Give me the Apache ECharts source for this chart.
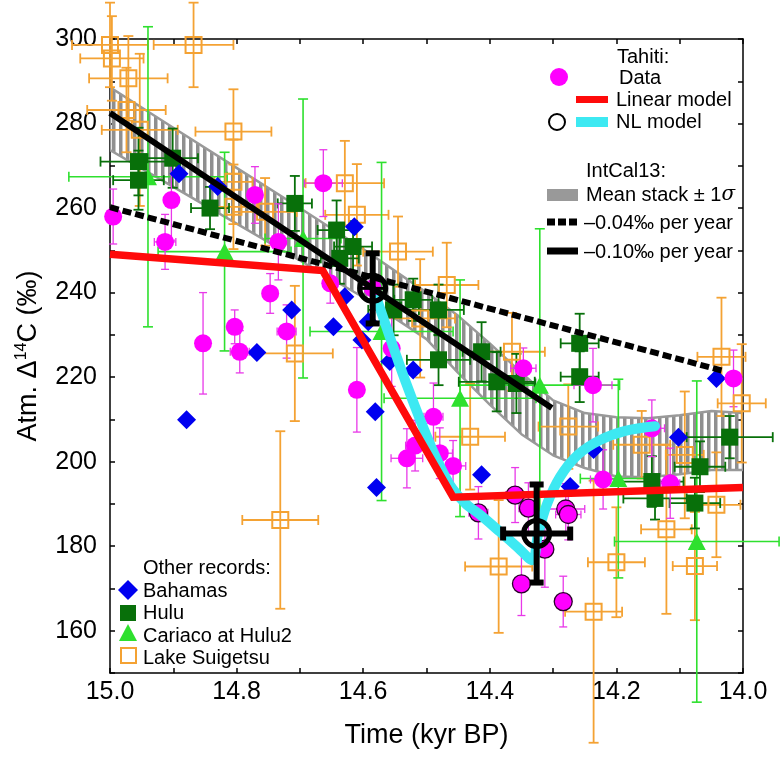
<!DOCTYPE html>
<html><head><meta charset="utf-8">
<script src="https://cdn.jsdelivr.net/npm/echarts@6/dist/echarts.min.js"></script>
<style>html,body{margin:0;padding:0;background:#fff}#c{width:781px;height:765px}</style>
</head><body><div id="c"></div>
<script>
// ---------------- data ----------------
// Tahiti data (kyr BP, permil, y error, x error)
const tahitiX = [14.995,14.903,14.913,14.853,14.803,14.795,14.771,14.747,14.734,14.721,14.663,14.652,14.610,14.585,14.555,14.531,14.518,14.489,14.479,14.458,14.418,14.360,14.347,14.350,14.339,14.313,14.284,14.280,14.276,14.237,14.221,14.144,14.115,14.015];
const tahitiY = [258.0,261.9,252.0,228.0,231.9,226.0,263.1,239.8,252.0,230.8,265.9,242.2,217.0,241.0,226.8,200.8,203.8,210.6,202.0,199.0,187.9,192.1,222.1,171.1,189.0,179.3,166.9,188.8,187.5,218.1,195.8,207.9,194.9,219.7];
const tahitiErrY = [6.5,9.5,6.5,12,4,5,6.7,4.7,9,6.3,7.9,4.7,10,0,9,7,6,8,6,6,6.2,6.5,4.8,7.5,6,9,6,6,6,8.7,7,6.7,8.3,6.7];
const tahitiErrX = [0,0,0.017,0,0.01,0.015,0,0,0,0.015,0.03,0,0,0,0,0.025,0.015,0.015,0.02,0.02,0.015,0.015,0.02,0,0.015,0,0,0.03,0.02,0.03,0.02,0.02,0.015,0];

// Bahamas
const bahamasX = [14.891,14.879,14.830,14.768,14.713,14.647,14.629,14.614,14.602,14.592,14.581,14.579,14.558,14.521,14.413,14.273,14.236,14.102,14.042];
const bahamasY = [268.1,209.9,265.1,225.8,235.9,231.9,239.0,255.6,228.8,233.1,211.8,193.9,223.7,221.7,196.9,194.1,202.9,205.8,219.7];

// Hulu
const huluX = [14.955,14.955,14.901,14.842,14.708,14.642,14.637,14.616,14.552,14.521,14.481,14.481,14.413,14.389,14.358,14.258,14.258,14.144,14.139,14.068,14.076,14.021];
const huluY = [271.0,266.6,271.8,260.0,261.1,254.8,248.1,250.9,235.9,238.3,235.9,224.1,226.0,218.9,218.5,228.0,220.1,195.3,191.3,198.8,190.2,205.8];
const huluErrY = [8,7,7,5,6.5,7,6,6,6,5,6,6,7,7,7,7,6,6,5,6,6,5];
const huluErrX = [0.06,0.04,0.04,0.03,0.027,0.03,0.03,0.03,0.04,0.03,0.04,0.05,0.03,0.06,0.03,0.03,0.03,0.05,0.05,0.04,0.04,0.068];

// Cariaco at Hulu2
const cariacoX = [14.940,14.819,14.695,14.571,14.447,14.321,14.197,14.073];
const cariacoY = [267.4,249.7,252.8,230.8,215.0,218.1,196.0,181.1];
const cariacoErrY = [35.5,23.5,33,40,28,37,23.5,38];
const cariacoErrX = [0.125,0.105,0.06,0.113,0.12,0.126,0.06,0.13];

// Lake Suigetsu
const suigetsuX = [15.000,14.997,14.971,14.974,14.953,14.868,14.805,14.805,14.805,14.755,14.731,14.708,14.629,14.610,14.545,14.510,14.468,14.431,14.386,14.365,14.276,14.236,14.200,14.160,14.121,14.092,14.076,14.042,14.034,14.002];
const suigetsuY = [298.6,295.4,290.7,283.2,278.5,298.6,278.1,266.2,260.3,259.1,186.2,225.6,265.9,258.4,249.7,233.9,241.8,205.9,175.2,226.0,208.3,164.5,176.2,204.0,184.0,201.6,175.3,189.8,224.8,213.8];
const suigetsuErrY = [10,10,10,10,18,10,10,10,10,8,21,16,10,12,8.3,14,10,12.5,15.7,9.2,10,31,13,8,20,15,12.8,12.4,14,14];
const suigetsuErrX = [0.06,0.05,0.062,0.062,0.06,0.063,0.06,0.03,0.04,0.05,0.06,0.06,0.062,0.05,0.055,0.055,0.05,0.055,0.053,0.052,0.047,0.045,0.045,0.045,0.04,0.03,0.035,0.038,0.038,0.038];

// IntCal13 mean stack +/- 1 sigma
const bandX = [15.0,14.9,14.8,14.7,14.6,14.5,14.45,14.4,14.35,14.3,14.25,14.2,14.15,14.1,14.05,14.0];
const bandUpper = [288.6,279.0,269.5,260.0,250.3,240.0,234.5,228.0,221.0,214.5,211.5,210.5,210.3,211.0,212.0,211.5];
const bandLower = [273.7,265.0,256.3,247.6,238.9,229.0,221.0,213.5,206.5,201.5,198.5,196.5,196.3,197.0,198.0,198.0];

// Linear model
const linearX = [15.0,14.664,14.458,14.0];
const linearY = [249.1,245.2,191.6,193.9];

// NL model curve
const nlCurveX = [14.578,14.558,14.534,14.510,14.487,14.463,14.439,14.415,14.384,14.355,14.333,14.324,14.310,14.289,14.261,14.226,14.186,14.139];
const nlCurveY = [238.3,229.5,219.3,209.9,201.6,194.5,190.2,187.4,183.4,179.6,176.7,182.7,189.8,196.4,201.6,205.1,207.3,208.4];

// NL model change points
const nlPointX = [14.585,14.326];
const nlPointY = [241.0,183.0];
const nlPointErrY = [8.3,11.6];
const nlPointErrX = [0,0.053];

// Trend lines
const trend04X = [15.0,14.032];
const trend04Y = [260.2,221.5];
const trend10X = [15.0,14.302];
const trend10Y = [282.5,212.7];

// ---------------- chart ----------------
const FONT = '"Liberation Sans", Arial, Helvetica, sans-serif';
const MAGENTA = '#ff00ff', BLUE = '#0000f0', HULU = '#08700a', CARIACO = '#2ee02e', ORANGE = '#f4a233', RED = '#ff0a0a', CYAN = '#3de9f2', GREY = '#999999';

const chart = echarts.init(document.getElementById('c'));

function pairs(xs, ys) { return xs.map((x, i) => [x, ys[i]]); }
function quads(xs, ys, eys, exs) { return xs.map((x, i) => [x, ys[i], eys[i], exs[i]]); }

function errSeries(data, color, lw, cap, z) {
  return {
    type: 'custom', data: data, clip: false, silent: true, z: z,
    encode: { x: 0, y: 1 },
    renderItem: function (params, api) {
      const x = api.value(0), y = api.value(1), ey = api.value(2), ex = api.value(3);
      const c = api.coord([x, y]);
      const st = { stroke: color, lineWidth: lw, fill: null };
      const ch = [];
      if (ey > 0) {
        const t = api.coord([x, y + ey])[1], b = api.coord([x, y - ey])[1];
        ch.push({ type: 'line', shape: { x1: c[0], y1: t, x2: c[0], y2: b }, style: st });
        ch.push({ type: 'line', shape: { x1: c[0] - cap, y1: t, x2: c[0] + cap, y2: t }, style: st });
        ch.push({ type: 'line', shape: { x1: c[0] - cap, y1: b, x2: c[0] + cap, y2: b }, style: st });
      }
      if (ex > 0) {
        const l = api.coord([x + ex, y])[0], r = api.coord([x - ex, y])[0];
        ch.push({ type: 'line', shape: { x1: l, y1: c[1], x2: r, y2: c[1] }, style: st });
        ch.push({ type: 'line', shape: { x1: l, y1: c[1] - cap, x2: l, y2: c[1] + cap }, style: st });
        ch.push({ type: 'line', shape: { x1: r, y1: c[1] - cap, x2: r, y2: c[1] + cap }, style: st });
      }
      return { type: 'group', children: ch };
    }
  };
}

// vertical-stripe hatch for the IntCal13 band
const pat = document.createElement('canvas');
pat.width = 7; pat.height = 7;
const pctx = pat.getContext('2d');
pctx.fillStyle = '#8f8f8f';
pctx.fillRect(0, 0, 3.5, 7);

const tahitiData = tahitiX.map((x, i) => {
  const y = tahitiY[i];
  const outlined = x > 14.25 && x < 14.43 && y < 195;
  return { value: [x, y], itemStyle: outlined ? { borderColor: '#2a002a', borderWidth: 1.3 } : {} };
});

const axisCommonX = {
  type: 'value', min: 14.0, max: 15.0, interval: 0.1, inverse: true,
  axisLine: { show: true, onZero: false, lineStyle: { color: '#000', width: 1.5 } },
  axisTick: { show: true, inside: true, length: 5, lineStyle: { color: '#000', width: 1.5 } },
  splitLine: { show: false }
};
const axisCommonY = {
  type: 'value', min: 150, max: 300, interval: 10,
  axisLine: { show: true, onZero: false, lineStyle: { color: '#000', width: 1.5 } },
  axisTick: { show: true, inside: true, length: 5, lineStyle: { color: '#000', width: 1.5 } },
  splitLine: { show: false }
};

const T = (text, x, y, extra) => ({ type: 'text', x: x, y: y, z: 100, style: Object.assign({ text: text, font: '20px ' + FONT, fill: '#000', verticalAlign: 'middle', textAlign: 'left' }, extra || {}) });

const option = {
  animation: false,
  backgroundColor: '#fff',
  grid: { left: 110, right: 38, top: 39, bottom: 92, containLabel: false },
  xAxis: [
    Object.assign({}, axisCommonX, {
      position: 'bottom',
      name: 'Time (kyr BP)', nameLocation: 'middle', nameGap: 49,
      nameTextStyle: { fontSize: 27, color: '#000', fontFamily: FONT },
      axisLabel: { show: true, margin: 7, fontSize: 25, color: '#000', fontFamily: FONT,
        formatter: v => { const k = Math.round(v * 10); return k % 2 === 0 ? (k / 10).toFixed(1) : ''; } }
    }),
    Object.assign({}, axisCommonX, { position: 'top', axisLabel: { show: false } })
  ],
  yAxis: [
    Object.assign({}, axisCommonY, {
      position: 'left',
      name: 'Atm. Δ{sup|14}C (‰)', nameLocation: 'middle', nameGap: 66,
      nameTextStyle: { fontSize: 27, color: '#000', fontFamily: FONT,
        rich: { sup: { fontSize: 16, fontFamily: FONT, color: '#000', verticalAlign: 'top', lineHeight: 30 } } },
      axisLabel: { show: true, margin: 13, fontSize: 25, color: '#000', fontFamily: FONT,
        formatter: v => (Math.round(v) % 20 === 0 ? String(Math.round(v)) : '') }
    }),
    Object.assign({}, axisCommonY, { position: 'right', axisLabel: { show: false } })
  ],
  series: [
    {
      type: 'custom', data: [[14.5, 240]], silent: true, z: 1, clip: true,
      encode: { x: 0, y: 1 },
      renderItem: function (params, api) {
        const pts = [];
        for (let i = 0; i < bandX.length; i++) pts.push(api.coord([bandX[i], bandUpper[i]]));
        for (let i = bandX.length - 1; i >= 0; i--) pts.push(api.coord([bandX[i], bandLower[i]]));
        return { type: 'polygon', shape: { points: pts }, style: { fill: { image: pat, repeat: 'repeat' }, stroke: GREY, lineWidth: 2.5, lineJoin: 'round' } };
      }
    },
    errSeries(quads(suigetsuX, suigetsuY, suigetsuErrY, suigetsuErrX), ORANGE, 1.8, 5, 2),
    { type: 'scatter', name: 'Lake Suigetsu', z: 2, data: pairs(suigetsuX, suigetsuY), symbol: 'rect', symbolSize: 16,
      itemStyle: { color: 'rgba(255,255,255,0)', borderColor: ORANGE, borderWidth: 2, opacity: 1 } },
    errSeries(quads(cariacoX, cariacoY, cariacoErrY, cariacoErrX), CARIACO, 1.6, 5, 2),
    { type: 'scatter', name: 'Cariaco at Hulu2', z: 2, data: pairs(cariacoX, cariacoY), symbol: 'triangle', symbolSize: [18, 17],
      itemStyle: { color: CARIACO, opacity: 1 } },
    errSeries(quads(huluX, huluY, huluErrY, huluErrX), HULU, 1.8, 5, 2),
    { type: 'scatter', name: 'Hulu', z: 2, data: pairs(huluX, huluY), symbol: 'rect', symbolSize: 17,
      itemStyle: { color: HULU, opacity: 1 } },
    { type: 'scatter', name: 'Bahamas', z: 2, data: pairs(bahamasX, bahamasY), symbol: 'diamond', symbolSize: 19,
      itemStyle: { color: BLUE, opacity: 1 } },
    errSeries(quads(tahitiX, tahitiY, tahitiErrY, tahitiErrX), '#e838e8', 1.3, 4, 2),
    { type: 'scatter', name: 'Tahiti', z: 2, data: tahitiData, symbol: 'circle', symbolSize: 18,
      itemStyle: { color: MAGENTA, opacity: 1 } },
    { type: 'line', name: 'NL model', z: 3, data: pairs(nlCurveX, nlCurveY), smooth: 0.35, symbol: 'none',
      lineStyle: { color: CYAN, width: 10, cap: 'round' } },
    { type: 'line', name: 'Linear model', z: 3, data: pairs(linearX, linearY), symbol: 'none',
      lineStyle: { color: RED, width: 7.5, join: 'miter' } },
    { type: 'line', name: '-0.04', z: 3, data: pairs(trend04X, trend04Y), symbol: 'none',
      lineStyle: { color: '#000', width: 6, type: [9, 4] } },
    { type: 'line', name: '-0.10', z: 3, data: pairs(trend10X, trend10Y), symbol: 'none',
      lineStyle: { color: '#000', width: 6 } },
    {
      type: 'custom', z: 4, silent: true, clip: false, encode: { x: 0, y: 1 },
      data: quads(nlPointX, nlPointY, nlPointErrY, nlPointErrX),
      renderItem: function (params, api) {
        const x = api.value(0), y = api.value(1), ey = api.value(2), ex = api.value(3);
        const c = api.coord([x, y]);
        const R = 13, cap = 7;
        const st = { stroke: '#000', lineWidth: 6, fill: null };
        const ch = [];
        const t = api.coord([x, y + ey])[1], b = api.coord([x, y - ey])[1];
        ch.push({ type: 'line', shape: { x1: c[0], y1: t, x2: c[0], y2: b }, style: st });
        ch.push({ type: 'line', shape: { x1: c[0] - cap, y1: t, x2: c[0] + cap, y2: t }, style: st });
        ch.push({ type: 'line', shape: { x1: c[0] - cap, y1: b, x2: c[0] + cap, y2: b }, style: st });
        let l = c[0] - R, r = c[0] + R;
        if (ex > 0) {
          l = api.coord([x + ex, y])[0]; r = api.coord([x - ex, y])[0];
          ch.push({ type: 'line', shape: { x1: l, y1: c[1] - cap, x2: l, y2: c[1] + cap }, style: st });
          ch.push({ type: 'line', shape: { x1: r, y1: c[1] - cap, x2: r, y2: c[1] + cap }, style: st });
          ch.push({ type: 'line', shape: { x1: l, y1: c[1], x2: r, y2: c[1] }, style: st });
        } else {
          ch.push({ type: 'line', shape: { x1: l, y1: c[1], x2: r, y2: c[1] }, style: { stroke: '#000', lineWidth: 3 } });
        }
        ch.push({ type: 'circle', shape: { cx: c[0], cy: c[1], r: R }, style: { stroke: '#000', lineWidth: 5, fill: null } });
        return { type: 'group', children: ch };
      }
    }
  ],
  graphic: [
    // Tahiti legend
    T('Tahiti:', 617, 57),
    { type: 'circle', z: 100, shape: { cx: 559, cy: 77, r: 9 }, style: { fill: MAGENTA } },
    T('Data', 619, 78),
    { type: 'rect', z: 100, shape: { x: 576, y: 96, width: 32, height: 7 }, style: { fill: RED } },
    T('Linear model', 616, 100),
    { type: 'circle', z: 100, shape: { cx: 557, cy: 122, r: 8 }, style: { fill: null, stroke: '#000', lineWidth: 2 } },
    { type: 'rect', z: 100, shape: { x: 576, y: 117, width: 32, height: 10 }, style: { fill: CYAN } },
    T('NL model', 616, 122),
    // IntCal13 legend
    T('IntCal13:', 586, 171),
    { type: 'rect', z: 100, shape: { x: 547, y: 189, width: 31, height: 12 }, style: { fill: GREY } },
    T('Mean stack ± 1{i|σ}', 586, 195, { rich: { i: { fontStyle: 'italic', fontSize: 20, fontFamily: 'DejaVu Serif, serif' } } }),
    { type: 'line', z: 100, shape: { x1: 547, y1: 222, x2: 578, y2: 222 }, style: { stroke: '#000', lineWidth: 7, lineDash: [8, 3] } },
    T('–0.04‰ per year', 584, 223),
    { type: 'line', z: 100, shape: { x1: 547, y1: 251, x2: 578, y2: 251 }, style: { stroke: '#000', lineWidth: 7 } },
    T('–0.10‰ per year', 584, 252),
    // Other records legend
    T('Other records:', 143, 568),
    { type: 'polygon', z: 100, shape: { points: [[128, 580], [138, 590], [128, 600], [118, 590]] }, style: { fill: BLUE } },
    T('Bahamas', 143, 591),
    { type: 'rect', z: 100, shape: { x: 120, y: 605, width: 16, height: 16 }, style: { fill: HULU } },
    T('Hulu', 143, 613),
    { type: 'polygon', z: 100, shape: { points: [[128, 624], [137, 641], [119, 641]] }, style: { fill: CARIACO } },
    T('Cariaco at Hulu2', 143, 636),
    { type: 'rect', z: 100, shape: { x: 121, y: 648, width: 15, height: 15 }, style: { fill: '#fff', stroke: ORANGE, lineWidth: 2 } },
    T('Lake Suigetsu', 143, 658)
  ]
};
chart.setOption(option);
</script>
</body></html>
